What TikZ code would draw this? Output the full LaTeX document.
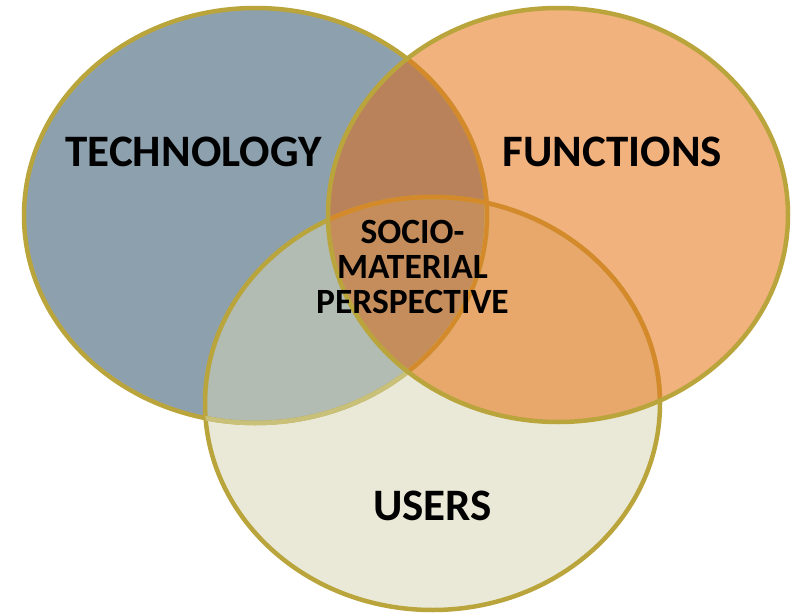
\documentclass[tikz,border=0pt]{standalone}
\usepackage{fontspec}
\newfontfamily\lab{Carlito}
\definecolor{techfill}{HTML}{8DA0AE}
\definecolor{funcfill}{HTML}{F2B27E}
\definecolor{userfill}{HTML}{EAE9D7}
\definecolor{tfcol}{HTML}{B9825A}
\definecolor{tucol}{HTML}{B2BCB2}
\definecolor{fucol}{HTML}{E8A76B}
\definecolor{tfucol}{HTML}{C68D5C}
\definecolor{goldline}{HTML}{B9A53C}
\definecolor{orangeline}{HTML}{D4892A}
\definecolor{lightgold}{HTML}{C9C07A}
\newcommand\Tell{(255.5,215.5) ellipse [x radius=231.5pt, y radius=207.5pt]}
\newcommand\Fell{(558,215) ellipse [x radius=230pt, y radius=207pt]}
\newcommand\Uell{(432.5,403.5) ellipse [x radius=227.5pt, y radius=206.5pt]}
\tikzset{
  rim/.style={line width=4.5pt},
  biglabel/.style={font=\lab\bfseries\fontsize{45}{45}\selectfont, text=black, inner sep=0pt},
  midlabel/.style={font=\lab\bfseries\fontsize{35.5}{35}\selectfont, text=black, inner sep=0pt, align=center}
}
\begin{document}
\begin{tikzpicture}[x=1pt,y=-1pt]
\fill[white] (0,0) rectangle (796,616);
\useasboundingbox (0,0) rectangle (796,616);
% base fills
\fill[techfill] \Tell;
\fill[userfill] \Uell;
\fill[funcfill] \Fell;
% pairwise overlaps
\begin{scope}\clip \Tell; \fill[tucol] \Uell; \end{scope}
\begin{scope}\clip \Tell; \fill[tfcol] \Fell; \end{scope}
\begin{scope}\clip \Fell; \fill[fucol] \Uell; \end{scope}
\begin{scope}\clip \Tell; \clip \Fell; \fill[tfucol] \Uell; \end{scope}
% rims
\draw[rim, goldline] \Tell;
\draw[rim, goldline] \Uell;
\begin{scope}\clip \Uell; \draw[rim, lightgold] \Tell; \end{scope}
\begin{scope}\clip \Fell; \draw[rim, orangeline] \Tell; \draw[rim, orangeline] \Uell; \end{scope}
\draw[rim, goldline] \Fell;
% labels
\node[biglabel] (tech) at (193.5,151.5) {TECHNOLOGY};
\node[biglabel] (func) at (612.5,151.5) {FUNCTIONS};
\node[biglabel] (users) at (432.5,505.5) {USERS};
\node[midlabel] (socio) at (412.5,266.5) {SOCIO-\\MATERIAL\\PERSPECTIVE};
\end{tikzpicture}
\end{document}
